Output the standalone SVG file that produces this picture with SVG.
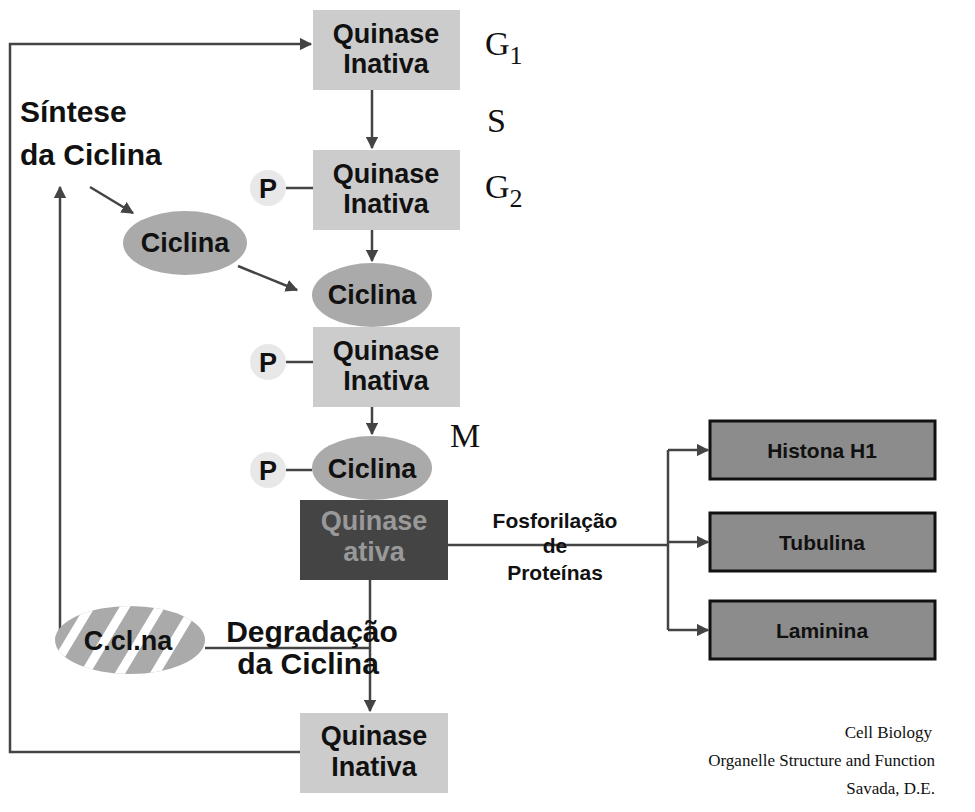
<svg xmlns="http://www.w3.org/2000/svg" width="975" height="812" viewBox="0 0 975 812">
<style>
.b{font-family:"Liberation Sans",Arial,sans-serif;font-weight:bold;font-size:27px;text-anchor:middle;fill:#111}
.t{font-family:"Liberation Sans",Arial,sans-serif;font-weight:bold;font-size:30px;fill:#111}
.s{font-family:"Liberation Serif","Times New Roman",serif;font-size:34px;fill:#111}
.c{font-family:"Liberation Serif",serif;font-size:17px;text-anchor:end;fill:#111}
.ln{stroke:#444;stroke-width:2.5;fill:none}
.lb{font-family:"Liberation Sans",Arial,sans-serif;font-weight:bold;font-size:21px;text-anchor:middle;fill:#111}
</style>
<defs>
<marker id="a" viewBox="0 0 10 10" refX="9" refY="5" markerWidth="5" markerHeight="5" orient="auto"><path d="M0,0L10,5L0,10z" fill="#444"/></marker>
<clipPath id="ec"><ellipse cx="130" cy="640" rx="75" ry="34"/></clipPath>
</defs>
<rect width="975" height="812" fill="#fff"/>
<g id="connectors">
<path class="ln" d="M300,752H10V44H311" marker-end="url(#a)"/>
<path class="ln" d="M372,90V148" marker-end="url(#a)"/>
<path class="ln" d="M372,230V261" marker-end="url(#a)"/>
<path class="ln" d="M372,407V434" marker-end="url(#a)"/>
<path class="ln" d="M370,580V711" marker-end="url(#a)"/>
<path class="ln" d="M90,187L133,213" marker-end="url(#a)"/>
<path class="ln" d="M238,266L297,290" marker-end="url(#a)"/>
<path class="ln" d="M60,640H60"/>
<path class="ln" d="M80,640H60V187" marker-end="url(#a)"/>
<path class="ln" d="M205,648H370"/>
<path class="ln" d="M286,188H313M286,362H313M286,470H312"/>
<path class="ln" d="M448,545H668M668,450V630"/>
<path class="ln" d="M668,450H708" marker-end="url(#a)"/>
<path class="ln" d="M668,542H708" marker-end="url(#a)"/>
<path class="ln" d="M668,630H708" marker-end="url(#a)"/>
</g>
<g id="k1"><rect x="313" y="10" width="147" height="80" fill="#ccc"/><text class="b" x="386" y="43">Quinase</text><text class="b" x="386" y="73">Inativa</text></g>
<g id="k2"><rect x="313" y="150" width="147" height="80" fill="#ccc"/><text class="b" x="386" y="183">Quinase</text><text class="b" x="386" y="213">Inativa</text></g>
<g id="p1"><circle cx="268" cy="188" r="18" fill="#e8e8e8"/><text class="b" x="268" y="198">P</text></g>
<g id="cic1"><ellipse cx="185" cy="243" rx="62" ry="32" fill="#aaa"/><text class="b" x="185" y="252">Ciclina</text></g>
<g id="cic2"><ellipse cx="372" cy="295" rx="60" ry="32" fill="#aaa"/><text class="b" x="372" y="304">Ciclina</text></g>
<g id="k3"><rect x="313" y="327" width="147" height="80" fill="#ccc"/><text class="b" x="386" y="360">Quinase</text><text class="b" x="386" y="390">Inativa</text></g>
<g id="p2"><circle cx="268" cy="362" r="18" fill="#e8e8e8"/><text class="b" x="268" y="372">P</text></g>
<g id="cic3"><ellipse cx="372" cy="468" rx="60" ry="32" fill="#aaa"/><text class="b" x="372" y="478">Ciclina</text></g>
<g id="p3"><circle cx="268" cy="470" r="18" fill="#e8e8e8"/><text class="b" x="268" y="480">P</text></g>
<g id="ativa"><rect x="300" y="500" width="148" height="80" fill="#444"/><text class="b" x="374" y="530" style="fill:#999">Quinase</text><text class="b" x="374" y="561" style="fill:#999">ativa</text></g>
<g id="k4"><rect x="300" y="713" width="148" height="80" fill="#ccc"/><text class="b" x="374" y="745">Quinase</text><text class="b" x="374" y="776">Inativa</text></g>
<g id="deg"><g clip-path="url(#ec)"><rect x="50" y="600" width="170" height="80" fill="#aaa"/><path d="M75,690L135,590M110,690L170,590M145,690L205,590M40,690L100,590" stroke="#fff" stroke-width="9"/></g><text class="b" x="128" y="650">C.cl.na</text></g>
<text class="t" x="20" y="122">Síntese</text><text class="t" x="20" y="165">da Ciclina</text>
<text class="t" x="312" y="642" text-anchor="middle">Degradação</text><text class="t" x="308" y="674" text-anchor="middle">da Ciclina</text>
<text class="lb" x="555" y="528">Fosforilação</text><text class="lb" x="555" y="553">de</text><text class="lb" x="555" y="580">Proteínas</text>
<text class="s" x="485" y="55">G<tspan font-size="26" dy="9">1</tspan></text>
<text class="s" x="487" y="132">S</text>
<text class="s" x="485" y="198">G<tspan font-size="26" dy="9">2</tspan></text>
<text class="s" x="450" y="447">M</text>
<g id="h1"><rect x="710" y="421" width="225" height="58" fill="#8c8c8c" stroke="#111" stroke-width="3"/><text class="lb" x="822" y="458">Histona H1</text></g>
<g id="tub"><rect x="710" y="513" width="225" height="58" fill="#8c8c8c" stroke="#111" stroke-width="3"/><text class="lb" x="822" y="550">Tubulina</text></g>
<g id="lam"><rect x="710" y="601" width="225" height="58" fill="#8c8c8c" stroke="#111" stroke-width="3"/><text class="lb" x="822" y="638">Laminina</text></g>
<text class="c" x="932" y="738">Cell Biology</text>
<text class="c" x="935" y="766">Organelle Structure and Function</text>
<text class="c" x="935" y="794">Savada, D.E.</text>
</svg>
